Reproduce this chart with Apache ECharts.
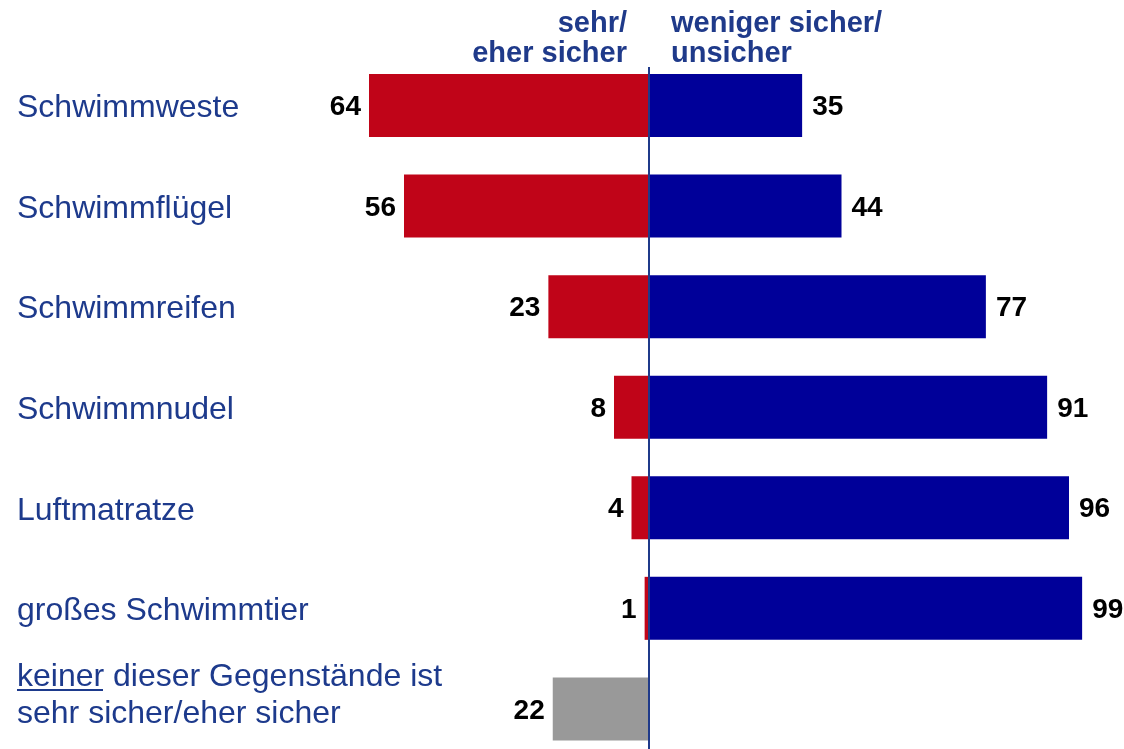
<!DOCTYPE html>
<html><head><meta charset="utf-8">
<script src="https://cdn.jsdelivr.net/npm/echarts@6/dist/echarts.min.js"></script>
<style>html,body{margin:0;padding:0;background:#fff}#c{width:1124px;height:749px}</style>
</head><body><div id="c"></div>
<script>
const categories = ['Schwimmweste','Schwimmflügel','Schwimmreifen','Schwimmnudel','Luftmatratze','großes Schwimmtier','keiner dieser Gegenstände ist\nsehr sicher/eher sicher'];
const sicher = [64,56,23,8,4,1,null];
const keiner = [null,null,null,null,null,null,22];
const unsicher = [35,44,77,91,96,99,null];
const headerLeft = 'sehr/\neher sicher';
const headerRight = 'weniger sicher/\nunsicher';

const FONT = "'Liberation Sans', Arial, sans-serif";
const BLUE_TEXT = '#1D3A8C';
const chart = echarts.init(document.getElementById('c'));
const valLabel = (pos, dist) => ({
  show: true, position: pos, distance: dist, offset: [0, 2],
  formatter: p => Math.abs(p.value),
  fontFamily: FONT, fontSize: 28, fontWeight: 'bold', color: '#000'
});
chart.setOption({
  animation: false,
  grid: {left: 211.5, right: 37.5, top: 55.2, height: 704, containLabel: false, outerBoundsMode: 'none'},
  xAxis: {type: 'value', min: -100, max: 100, show: false},
  yAxis: {
    type: 'category', inverse: true,
    data: categories,
    axisLine: {show: false}, axisTick: {show: false},
    axisLabel: {
      align: 'left', margin: 194.5, fontFamily: FONT, fontSize: 32, lineHeight: 37, color: BLUE_TEXT,
      padding: [6, 0, 0, 0],
      formatter: (v) => v.indexOf('\n') >= 0
        ? v.split('\n').map(s => '{a|' + s + '}').join('\n') + '\n{e| }'
        : v,
      rich: {
        a: {fontFamily: FONT, fontSize: 32, lineHeight: 37, color: BLUE_TEXT},
        e: {fontSize: 10, lineHeight: 32}
      }
    }
  },
  series: [
    {name: 'sehr/eher sicher', type: 'bar', stack: 's', barWidth: 63,
     data: sicher.map(v => v == null ? null : -v), itemStyle: {color: '#C00418'}, label: valLabel('left', 8)},
    {name: 'keiner', type: 'bar', stack: 's', barWidth: 63,
     data: keiner.map(v => v == null ? null : -v), itemStyle: {color: '#999999'}, label: valLabel('left', 8)},
    {name: 'weniger sicher/unsicher', type: 'bar', stack: 's', barWidth: 63,
     data: unsicher, itemStyle: {color: '#000099'}, label: valLabel('right', 10)}
  ]
});
const x0 = chart.convertToPixel({xAxisIndex: 0}, 0);
chart.setOption({
  graphic: [
    {type: 'line', z: 100, shape: {x1: x0, y1: 67, x2: x0, y2: 749}, style: {stroke: '#1F3A8A', lineWidth: 2}},
    {type: 'text', x: x0 - 22, y: 9, style: {text: headerLeft, align: 'right', fontFamily: FONT, fontSize: 29, fontWeight: 'bold', lineHeight: 30, fill: '#1F3A8A'}},
    {type: 'text', x: x0 + 22, y: 9, style: {text: headerRight, align: 'left', fontFamily: FONT, fontSize: 29, fontWeight: 'bold', lineHeight: 30, fill: '#1F3A8A'}},
    {type: 'line', shape: {x1: 17, y1: 690, x2: 103, y2: 690}, style: {stroke: BLUE_TEXT, lineWidth: 2}}
  ]
});
</script></body></html>
